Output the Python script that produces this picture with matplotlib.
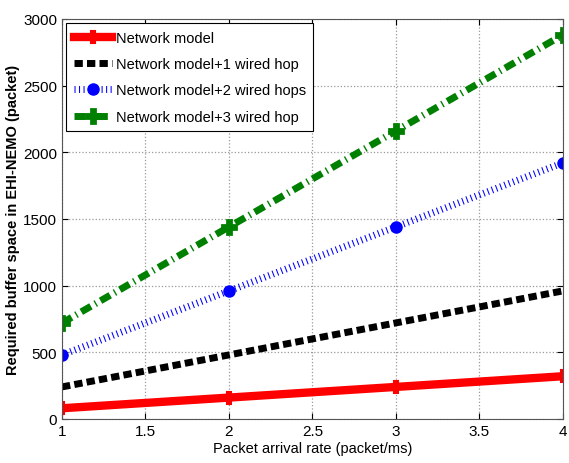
import numpy as np
import matplotlib.pyplot as plt

plt.rcParams['font.family'] = ['Liberation Sans', 'DejaVu Sans']

# arrival rate (packet/ms) and required buffer (packets)
rate = [1, 2, 3, 4]
net = [80, 160, 240, 320]
hop1 = [240, 480, 720, 960]
hop2 = [480, 960, 1440, 1920]
hop3 = [720, 1440, 2160, 2880]

labels = ["Network model", "Network model+1 wired hop",
          "Network model+2 wired hops", "Network model+3 wired hop"]

fig = plt.figure(figsize=(5.69, 4.64), dpi=100)
ax = fig.add_axes([0.109, 0.095, 0.88, 0.862])

ax.plot(rate, net, color='red', lw=6, ls='-', marker='P', ms=9, mew=1.5, label=labels[0])
ax.plot(rate, hop1, color='black', lw=5, ls=(0, (1.2, 0.6)), label=labels[1])
ax.plot(rate, hop2, color='blue', lw=5, ls=(0, (0.15, 0.5)), marker='o', ms=8,
        label=labels[2])
ax.plot(rate, hop3, color='green', lw=5, ls=(0, (1.6, 0.7, 0.2, 0.7)), marker='P',
        ms=10, mew=2, label=labels[3])

ax.set_xlim(1, 4)
ax.set_ylim(0, 3000)
ax.set_xticks([1, 1.5, 2, 2.5, 3, 3.5, 4])
ax.set_xticklabels(['1', '1.5', '2', '2.5', '3', '3.5', '4'])
ax.set_yticks(range(0, 3001, 500))
ax.tick_params(direction='in', labelsize=11, top=True, right=True, length=4)
ax.grid(True, ls=':', color='#999999', lw=0.9)
for s in ax.spines.values():
    s.set_color('#555555')

ax.set_xlabel('Packet arrival rate (packet/ms)', fontsize=10.5, labelpad=2)
ax.set_ylabel('Required buffer space in EHI-NEMO (packet)', fontsize=10.5,
              fontweight='bold', labelpad=2)

leg = ax.legend(loc='upper left', fontsize=10.5, handlelength=2.6, handletextpad=0.3,
                borderaxespad=0.3, fancybox=False, edgecolor='black', framealpha=1,
                labelspacing=0.85, borderpad=0.5)
leg.get_frame().set_linewidth(0.8)

fig.savefig('out.png', dpi=100)
